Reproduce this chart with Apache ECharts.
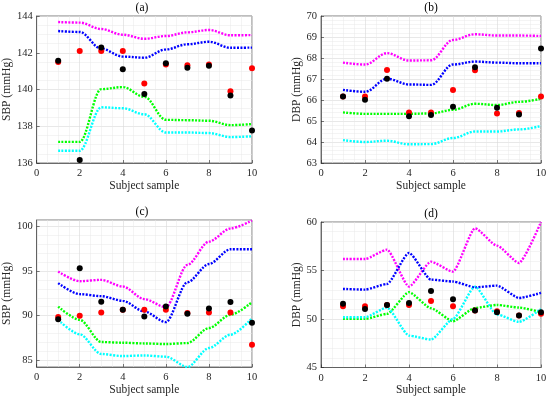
<!DOCTYPE html>
<html><head><meta charset="utf-8">
<script src="https://cdn.jsdelivr.net/npm/echarts@6/dist/echarts.min.js"></script>
<style>html,body{margin:0;padding:0;background:#fff}#c{width:550px;height:399px}</style>
</head><body><div id="c"></div>
<script>
const xSamples = [1,2,3,4,5,6,7,8,9,10];

const aMagenta = [143.67,143.64,143.29,142.98,142.76,142.91,143.11,143.24,142.95,142.96];
const aBlue    = [143.18,143.13,142.22,141.79,141.73,142.18,142.46,142.60,142.27,142.28];
const aGreen   = [137.15,137.15,140.02,140.13,139.60,138.35,138.33,138.30,138.06,138.12];
const aCyan    = [136.67,136.67,139.03,138.98,138.65,137.66,137.66,137.63,137.41,137.45];
const aBlack   = [141.57,136.16,142.28,141.10,139.76,141.43,141.19,141.29,139.68,137.77];
const aRed     = [141.50,142.10,142.10,142.10,140.33,141.36,141.32,141.36,139.91,141.16];

const bMagenta = [67.78,67.69,68.23,67.88,67.89,68.86,69.13,69.07,69.07,69.05];
const bBlue    = [66.48,66.39,67.01,66.74,66.72,67.69,67.83,67.78,67.75,67.75];
const bGreen   = [65.41,65.34,65.34,65.34,65.36,65.53,65.82,65.76,65.91,66.06];
const bCyan    = [64.09,64.00,64.06,63.89,63.90,64.19,64.50,64.50,64.60,64.76];
const bBlack   = [66.17,66.01,67.01,65.23,65.28,65.68,67.56,65.63,65.31,68.45];
const bRed     = [66.17,66.17,67.43,65.41,65.41,66.48,67.42,65.36,65.38,66.17];

const cMagenta = [94.95,93.87,94.02,93.27,91.85,90.95,95.70,98.32,99.80,100.70];
const cBlue    = [93.65,92.41,92.19,91.66,90.46,89.27,93.75,95.80,97.46,97.46];
const cGreen   = [91.02,89.53,87.03,86.95,86.87,86.80,86.91,88.60,90.09,91.52];
const cCyan    = [89.53,87.90,85.68,85.45,85.52,85.38,84.22,86.35,87.85,89.72];
const cBlack   = [89.60,95.33,91.55,90.65,89.90,91.02,90.20,90.80,91.52,89.19];
const cRed     = [89.83,89.98,90.35,90.65,90.65,90.65,90.28,90.35,90.35,86.72];

const dMagenta = [56.19,56.19,57.15,53.34,55.91,54.88,59.35,57.56,55.78,60.00];
const dBlue    = [53.10,53.03,53.61,56.81,54.06,53.86,53.27,53.44,52.17,52.69];
const dGreen   = [50.01,50.01,50.53,52.76,51.11,49.77,51.14,51.45,51.18,50.70];
const dCyan    = [50.18,50.18,51.18,48.29,47.88,50.00,53.34,50.46,49.70,51.04];
const dBlack   = [51.56,51.04,51.45,51.66,52.89,52.04,50.87,50.70,50.35,50.70];
const dRed     = [51.31,51.31,51.45,51.45,51.86,51.31,50.87,50.80,50.35,50.53];

const panelTitles = ['(a)','(b)','(c)','(d)'];
const yNames = ['SBP (mmHg)','DBP (mmHg)','SBP (mmHg)','DBP (mmHg)'];
const xName = 'Subject sample';

const FONT = 'Liberation Serif';
const TXT = '#262626';

const panels = [
  {lines:[aMagenta,aBlue,aGreen,aCyan], red:aRed, black:aBlack, min:136, max:144, interval:2, minor:4, smooth:0.35,
   grid:{left:32, top:16, width:220, height:147}, nameGap:22},
  {lines:[bMagenta,bBlue,bGreen,bCyan], red:bRed, black:bBlack, min:63, max:70, interval:1, minor:5, smooth:0.35,
   grid:{left:321, top:16, width:220, height:147}, nameGap:18},
  {lines:[cMagenta,cBlue,cGreen,cCyan], red:cRed, black:cBlack, min:84.22, max:100.75, interval:null, minor:5, smooth:0.3,
   grid:{left:32, top:220, width:220, height:147}, nameGap:22},
  {lines:[dMagenta,dBlue,dGreen,dCyan], red:dRed, black:dBlack, min:45, max:60, interval:5, minor:5, smooth:0.2,
   grid:{left:321, top:222, width:220, height:145.5}, nameGap:18}
];
const lineColors = ['#ff00ff','#0000ff','#00ff00','#00ffff'];

const grids = [], xAxes = [], yAxes = [], series = [], graphics = [];
panels.forEach((p, i) => {
  grids.push(Object.assign({show:true, borderColor:TXT, borderWidth:0.6, backgroundColor:'#fff'}, p.grid));
  xAxes.push({
    type:'value', gridIndex:i, min:0, max:10, interval:2,
    name:xName, nameLocation:'middle', nameGap:15,
    nameTextStyle:{fontFamily:FONT, fontSize:11.5, color:TXT},
    axisLine:{show:true, onZero:false, lineStyle:{color:TXT, width:0.6}},
    axisTick:{show:true, inside:true, length:3, lineStyle:{color:TXT, width:0.6}},
    axisLabel:{fontFamily:FONT, fontSize:10.5, color:TXT, margin:5},
    splitLine:{show:true, lineStyle:{color:'#d9d9d9', width:0.6}},
    minorTick:{show:false, splitNumber:4},
    minorSplitLine:{show:true, lineStyle:{color:'#e9e9e9', width:0.5}}
  });
  const y = {
    type:'value', gridIndex:i, min:p.min, max:p.max,
    name:yNames[i], nameLocation:'middle', nameGap:p.nameGap,
    nameTextStyle:{fontFamily:FONT, fontSize:11.5, color:TXT},
    axisLine:{show:true, lineStyle:{color:TXT, width:0.6}},
    axisTick:{show:true, inside:true, length:3, lineStyle:{color:TXT, width:0.6}},
    axisLabel:{fontFamily:FONT, fontSize:10.5, color:TXT, margin:4, showMinLabel: p.interval!==null, showMaxLabel: p.interval!==null},
    splitLine:{show:true, lineStyle:{color:'#d9d9d9', width:0.6}},
    minorTick:{show:false, splitNumber:p.minor},
    minorSplitLine:{show:true, lineStyle:{color:'#e9e9e9', width:0.5}}
  };
  if (p.interval !== null) { y.interval = p.interval; }
  else { y.minInterval = 5; y.maxInterval = 5; y.splitNumber = 3; }
  yAxes.push(y);
  p.lines.forEach((vals, k) => {
    series.push({
      type:'line', xAxisIndex:i, yAxisIndex:i, smooth:p.smooth, smoothMonotone:'x',
      symbol:'none', data: xSamples.map((x, j) => [x, vals[j]]),
      lineStyle:{color:lineColors[k], width:2.4, type:[2,1.4], cap:'butt'},
      z:2
    });
  });
  series.push({type:'scatter', xAxisIndex:i, yAxisIndex:i, symbolSize:6,
    itemStyle:{color:'#ff0000', opacity:1}, data: xSamples.map((x,j)=>[x,p.red[j]]), z:3});
  series.push({type:'scatter', xAxisIndex:i, yAxisIndex:i, symbolSize:6,
    itemStyle:{color:'#000000', opacity:1}, data: xSamples.map((x,j)=>[x,p.black[j]]), z:4});
  graphics.push({type:'text', x:p.grid.left + p.grid.width/2, y:p.grid.top - 2,
    style:{text:panelTitles[i], fontFamily:FONT, fontSize:11.5, fill:'#000', textAlign:'center', textVerticalAlign:'bottom'}});
});

const chart = echarts.init(document.getElementById('c'), null, {renderer:'canvas'});
chart.setOption({
  animation:false,
  backgroundColor:'#fff',
  grid:grids, xAxis:xAxes, yAxis:yAxes, series:series, graphic:graphics
});
</script>
</body></html>
